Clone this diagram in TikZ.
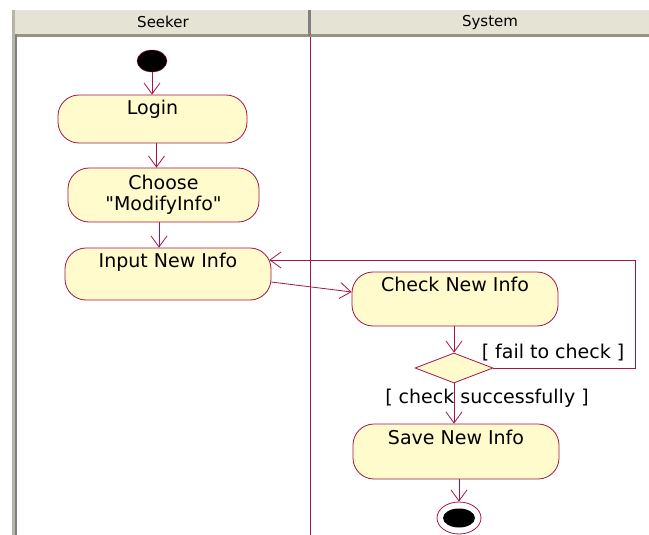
\documentclass[tikz,border=0pt]{standalone}
\usepackage{fontspec}
\setmainfont{DejaVu Sans}
\usetikzlibrary{arrows.meta,shapes.geometric}
\definecolor{umlred}{RGB}{165,20,75}
\definecolor{umlfill}{RGB}{255,251,204}
\definecolor{hdrfill}{RGB}{228,227,212}
\definecolor{hdrline}{RGB}{150,148,130}

\begin{document}
\begin{tikzpicture}[x=1pt, y=-1pt,
  every node/.style={font=\fontsize{19}{21}\selectfont},
  actbase/.style={draw=umlred, fill=umlfill, line width=0.8pt, rounded corners=21pt, inner sep=0pt},
  act/.style={actbase, text height=14pt, text depth=#1},
  act/.default=28pt,
  flow/.style={draw=umlred, line width=0.8pt, -{Straight Barb[length=11pt,width=16pt]}},
  hdr/.style={font=\fontsize{15}{17}\selectfont}]
  \useasboundingbox (0,0) rectangle (649,535);

  % lane headers
  \fill[hdrfill] (13,10) rectangle (649,34);
  \fill[hdrline] (13,34) rectangle (649,37);
  \fill[hdrline!70] (12,10) rectangle (15,535);
  \fill[gray] (15,34) rectangle (17,535);
  \fill[gray] (308,10) rectangle (311,36);
  \node[hdr] (seeker) at (163,22) {Seeker};
  \node[hdr] (system) at (490,22) {System};

  % lane divider
  \draw[umlred, line width=0.8pt] (310,37) -- (310,535);

  % start
  \node[ellipse, draw=umlred, fill=black, minimum width=30pt, minimum height=22pt, inner sep=0pt] (start) at (152,61) {};

  % Seeker activities
  \node[act=22pt, minimum width=189pt, minimum height=48pt] (login) at (152.5,119) {Login};
  \node[actbase, align=center, minimum width=191pt, minimum height=54pt] (choose) at (163.5,195) {Choose\\\textquotedbl ModifyInfo\textquotedbl};
  \node[act=28pt, minimum width=206pt, minimum height=52pt] (input) at (168,274) {Input New Info};

  % System activities
  \node[act=30pt, minimum width=206pt, minimum height=54pt] (check) at (455,299) {Check New Info};
  \node[diamond, draw=umlred, fill=umlfill, line width=0.8pt, minimum width=78pt, minimum height=30pt, inner sep=0pt] (dec) at (454,368) {};
  \node[act=29pt, minimum width=206pt, minimum height=55pt] (save) at (456,451.5) {Save New Info};

  % end
  \node[ellipse, draw=umlred, fill=white, line width=0.8pt, minimum width=44pt, minimum height=32pt, inner sep=0pt] (stop) at (459,518) {};
  \node[ellipse, fill=black, minimum width=32pt, minimum height=19pt, inner sep=0pt] (stopdot) at (stop) {};

  % flows
  \draw[flow] (start.south) -- (start.south |- login.north);
  \draw[flow] ([xshift=4pt]login.south) -- ([xshift=4pt]login.south |- choose.north);
  \draw[flow] ([xshift=-4.5pt]choose.south) -- ([xshift=-4.5pt]choose.south |- input.north);
  \draw[flow] ([yshift=-8pt]input.east) -- ([yshift=7pt]check.west);
  \draw[flow] (dec.north |- check.south) -- (dec.north);
  \draw[flow] (dec.east) -- node[pos=0.42, above=3pt] {[ fail to check ]} ++(142,0) |- ([xshift=-2pt,yshift=14pt]input.east);
  \draw[flow] (dec.south) -- node[pos=0.36, xshift=33pt] {[ check successfully ]} (dec.south |- save.north);
  \draw[flow] (save.south -| stop.north) -- (stop.north);
\end{tikzpicture}
\end{document}
